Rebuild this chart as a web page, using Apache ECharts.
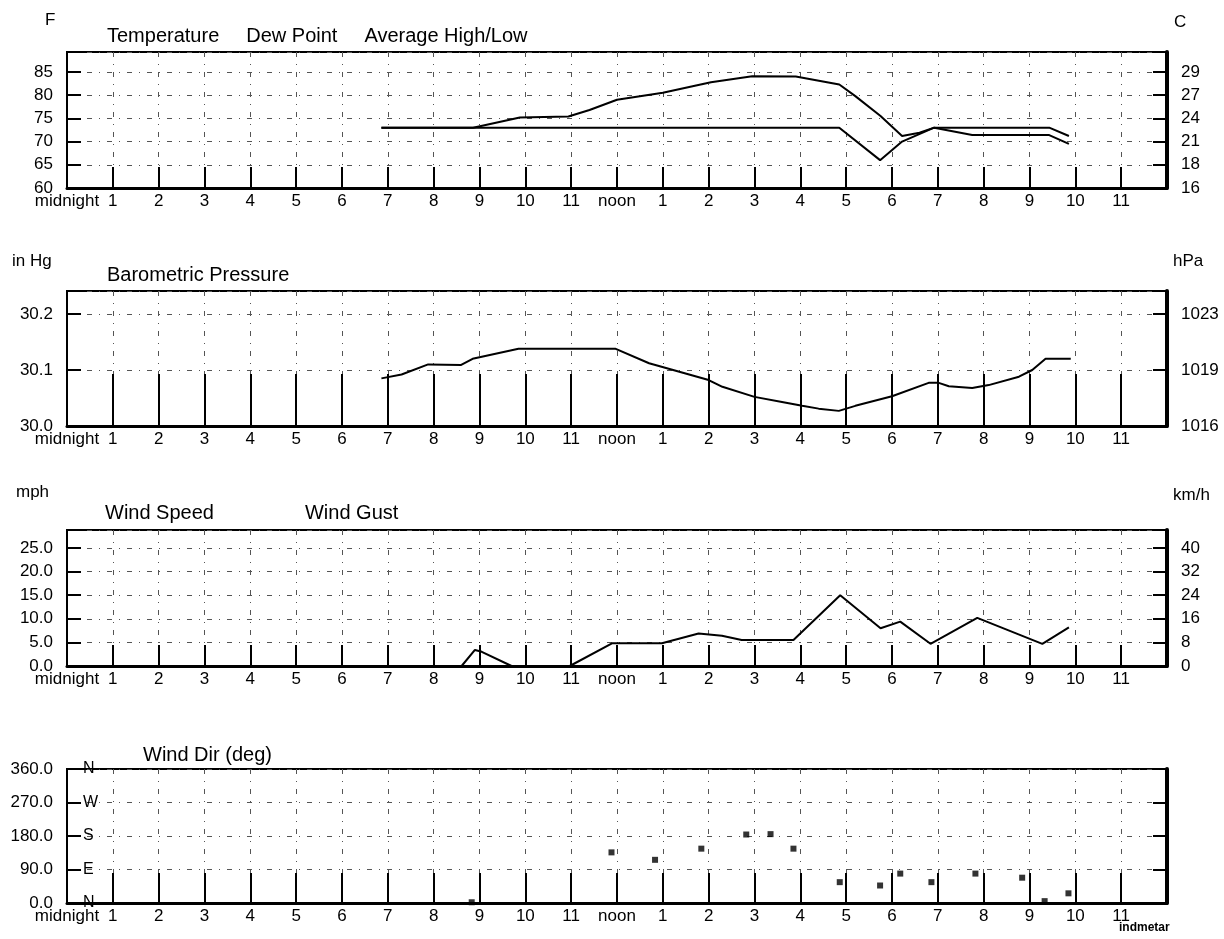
<!DOCTYPE html>
<html><head><meta charset="utf-8">
<script src="https://cdn.jsdelivr.net/npm/echarts/dist/echarts.min.js"></script>
<style>html,body{margin:0;padding:0;background:#fff}#c{width:1224px;height:939px}</style>
</head><body><div id="c"></div>
<script>
// ---- data (hour of day, value) ----
const hourLabels = ['midnight','1','2','3','4','5','6','7','8','9','10','11','noon','1','2','3','4','5','6','7','8','9','10','11'];
const temperature = [[6.86,73],[8.86,73],[9.88,75.2],[10.94,75.4],[11.4,76.8],[12.0,79.0],[13.0,80.5],[14.05,82.8],[14.95,84.1],[15.9,84.0],[16.85,82.3],[17.2,79.8],[17.75,75.5],[18.22,71.2],[18.6,71.9],[18.92,73],[21.43,73],[21.86,71.2]];
const dewPoint = [[6.86,73],[16.85,73],[17.74,66],[18.22,70],[18.92,73],[19.75,71.4],[21.43,71.4],[21.86,69.5]];
const avgHighLow = [];
const pressure = [[6.86,30.085],[7.3,30.092],[7.88,30.11],[8.6,30.109],[8.85,30.12],[9.85,30.138],[11.96,30.138],[12.7,30.112],[13.05,30.104],[14.0,30.082],[14.3,30.07],[15.0,30.052],[15.6,30.043],[16.04,30.036],[16.4,30.031],[16.84,30.027],[17.2,30.036],[18.0,30.053],[18.8,30.077],[19.02,30.077],[19.24,30.071],[19.75,30.068],[20.11,30.073],[20.77,30.088],[21.06,30.1],[21.35,30.12],[21.9,30.12]];
const windSpeed = [[8.61,0],[8.9,3.4],[9.05,3.0],[9.7,0],[10.97,0],[11.89,4.8],[12.98,4.8],[13.78,6.9],[14.29,6.4],[14.72,5.5],[15.85,5.5],[16.87,15.0],[17.75,8.0],[18.18,9.4],[18.84,4.7],[19.86,10.2],[21.28,4.7],[21.86,8.2]];
const windGust = [];
const windDir = [[8.83,2],[11.88,136],[12.83,116],[13.84,146],[14.82,184],[15.35,185],[15.85,146],[16.86,56],[17.74,47],[18.18,79],[18.86,56],[19.82,79],[20.84,68],[21.33,5],[21.85,26]];
const compass = {0:'N',90:'E',180:'S',270:'W',360:'N'};

const FONT = '"Liberation Sans", Arial, Helvetica, sans-serif';
const BLACK = '#000';
const gridStyle = {color:'#555', width:1, type:[5,7,1,7]};

const isMult = (v, step) => Math.abs(v/step - Math.round(v/step)) < 1e-6;

const grids = [
  {left:67, top:52, width:1100, height:136},
  {left:67, top:291, width:1100, height:135},
  {left:67, top:530, width:1100, height:136},
  {left:67, top:769, width:1100, height:134}
].map(g => Object.assign(g, {show:true, borderColor:BLACK, borderWidth:2, containLabel:false, outerBoundsMode:'none'}));

function xAx(gi, tickLen){
  return {type:'value', gridIndex:gi, min:0, max:24, interval:1,
    axisLine:{show:true, onZero:false, lineStyle:{color:BLACK, width:3}},
    axisTick:{show:true, inside:true, length:tickLen, lineStyle:{color:BLACK, width:2}},
    axisLabel:{show:true, margin:5, color:BLACK, fontSize:17, fontFamily:FONT,
      formatter: v => { const h = Math.round(v); return h < 24 ? hourLabels[h] : ''; }},
    splitLine:{show:true, lineStyle:gridStyle}};
}
function yLeft(gi, min, max, step, fmt){
  return {type:'value', gridIndex:gi, position:'left', min, max, interval:step,
    axisLine:{show:true, onZero:false, lineStyle:{color:BLACK, width:2}},
    axisTick:{show:true, inside:true, length:14, lineStyle:{color:BLACK, width:2}},
    axisLabel:{show:true, margin:14, color:BLACK, fontSize:17, fontFamily:FONT,
      formatter: v => isMult(v - min, step) ? fmt(v) : ''},
    splitLine:{show:true, lineStyle:gridStyle}};
}
function yRight(gi, min, max, step, fmt){
  return {type:'value', gridIndex:gi, position:'right', min, max, interval:step,
    axisLine:{show:true, onZero:false, lineStyle:{color:BLACK, width:4}},
    axisTick:{show:true, inside:true, length:14, lineStyle:{color:BLACK, width:2}},
    axisLabel:{show: !!fmt, margin:14, color:BLACK, fontSize:17, fontFamily:FONT,
      formatter: v => (fmt && isMult(v - min, step)) ? fmt(v) : ''},
    splitLine:{show:false}};
}

const yAxes = [
  yLeft(0, 60, 89.3, 5, v => String(Math.round(v))),
  yRight(0, 60, 89.3, 5, v => String(Math.round((v-32)*5/9))),
  yLeft(1, 30.0, 30.241, 0.1, v => v.toFixed(1)),
  yRight(1, 30.0, 30.241, 0.1, v => String(Math.round(v*33.8639))),
  yLeft(2, 0, 28.8, 5, v => v.toFixed(1)),
  yRight(2, 0, 28.8, 5, v => String(Math.round(v*1.609344))),
  yLeft(3, 0, 360, 90, v => v.toFixed(1)),
  {type:'value', gridIndex:3, position:'left', min:0, max:360, interval:90,
    axisLine:{show:false}, axisTick:{show:false}, splitLine:{show:false},
    axisLabel:{show:true, inside:true, margin:16, color:BLACK, fontSize:16, fontFamily:FONT,
      formatter: v => compass[Math.round(v)] || ''}},
  yRight(3, 0, 360, 90, null)
];

function lineSeries(name, xi, yi, data){
  return {name, type:'line', xAxisIndex:xi, yAxisIndex:yi, data, showSymbol:false, symbol:'none',
    lineStyle:{color:BLACK, width:2}, itemStyle:{color:BLACK}, animation:false, clip:true};
}

const legendBase = {icon:'none', itemWidth:0, itemHeight:10, selectedMode:false, padding:0,
  textStyle:{fontSize:20, color:BLACK, fontFamily:FONT}};

const unitText = (text, x, y, align, extra) => ({type:'text', left:x, top:y,
  style:Object.assign({text, fill:BLACK, font:'17px ' + FONT, textAlign:align||'left', textVerticalAlign:'middle'}, extra||{})});

const option = {
  animation:false,
  backgroundColor:'#fff',
  textStyle:{fontFamily:FONT, color:BLACK},
  grid: grids,
  xAxis: [xAx(0,21), xAx(1,52), xAx(2,21), xAx(3,30)],
  yAxis: yAxes,
  legend: [
    Object.assign({data:['Temperature','Dew Point','Average High/Low'], left:102, top:26, itemGap:22}, legendBase),
    Object.assign({data:['Barometric Pressure'], left:102, top:265, itemGap:22}, legendBase),
    Object.assign({data:['Wind Speed','Wind Gust'], left:100, top:503, itemGap:86}, legendBase),
    Object.assign({data:['Wind Dir (deg)'], left:138, top:745, itemGap:22}, legendBase)
  ],
  graphic: [
    {type:'text', left:45, top:12, style:{text:'F', fill:BLACK, font:'17px ' + FONT}},
    {type:'text', left:1174, top:14, style:{text:'C', fill:BLACK, font:'17px ' + FONT}},
    {type:'text', left:12, top:253, style:{text:'in Hg', fill:BLACK, font:'17px ' + FONT}},
    {type:'text', left:1173, top:253, style:{text:'hPa', fill:BLACK, font:'17px ' + FONT}},
    {type:'text', left:16, top:484, style:{text:'mph', fill:BLACK, font:'17px ' + FONT}},
    {type:'text', left:1173, top:487, style:{text:'km/h', fill:BLACK, font:'17px ' + FONT}},
    {type:'text', left:1119, top:922, style:{text:'indmetar', fill:BLACK, font:'bold 12px ' + FONT}}
  ],
  series: [
    lineSeries('Temperature', 0, 0, temperature),
    lineSeries('Dew Point', 0, 0, dewPoint),
    lineSeries('Average High/Low', 0, 0, avgHighLow),
    lineSeries('Barometric Pressure', 1, 2, pressure),
    lineSeries('Wind Speed', 2, 4, windSpeed),
    lineSeries('Wind Gust', 2, 4, windGust),
    {name:'Wind Dir (deg)', type:'scatter', xAxisIndex:3, yAxisIndex:6, data:windDir,
      symbol:'rect', symbolSize:6, itemStyle:{color:BLACK}, animation:false}
  ]
};

const chart = echarts.init(document.getElementById('c'), null, {renderer:'canvas'});
chart.setOption(option);
</script>
</body></html>
